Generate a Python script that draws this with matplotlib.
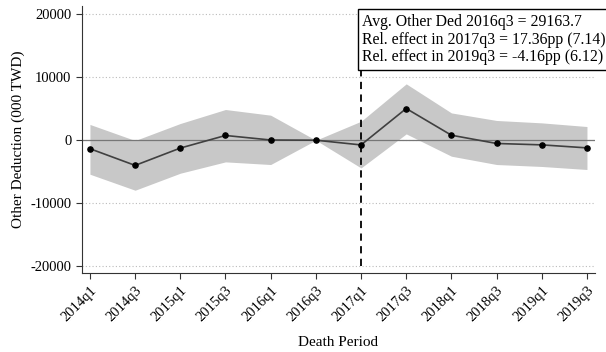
import matplotlib
matplotlib.use("Agg")
import matplotlib.pyplot as plt
import numpy as np

plt.rcParams.update({
    "font.family": "serif",
    "font.serif": ["Liberation Serif", "DejaVu Serif"],
    "font.size": 10,
    "axes.unicode_minus": False,
})

# --- data ---
periods = ["2014q1", "2014q3", "2015q1", "2015q3", "2016q1", "2016q3",
           "2017q1", "2017q3", "2018q1", "2018q3", "2019q1", "2019q3"]
coef = [-1350, -4000, -1250, 750, 30, 0, -750, 5030, 790, -520, -740, -1220]
ci_upper = [2500, -50, 2650, 4870, 3970, 0, 3000, 8940, 4330, 3130, 2750, 2170]
ci_lower = [-5400, -7940, -5240, -3440, -3860, 0, -4400, 1000, -2540, -3860, -4170, -4650]
yticks = [-20000, -10000, 0, 10000, 20000]
event_period = "2017q1"
note_lines = [
    "Avg. Other Ded 2016q3 = 29163.7",
    "Rel. effect in 2017q3 = 17.36pp (7.14)",
    "Rel. effect in 2019q3 = -4.16pp (6.12)",
]

x = np.arange(len(periods))
fig = plt.figure(figsize=(6.06, 3.52), dpi=100)
ax = fig.add_axes([0.135, 0.224, 0.847, 0.759])

# confidence band + point estimates
ax.fill_between(x, ci_lower, ci_upper, color="#c8c8c8", linewidth=0, zorder=1)
ax.axhline(0, color="#777777", linewidth=0.9, zorder=2)
ax.plot(x, coef, color="#404040", linewidth=1.2, zorder=3)
ax.scatter(x, coef, color="black", s=14, zorder=4)

# event line
ev = periods.index(event_period)
ax.plot([ev, ev], [yticks[0], yticks[-1]], color="black", linestyle=(0, (4, 3)),
        linewidth=1.3, zorder=5)

ax.set_xlim(-0.18, len(periods) - 1 + 0.18)
ax.set_ylim(-21100, 21300)
ax.set_yticks(yticks)
ax.set_yticklabels([str(t) for t in yticks], fontsize=10.5)
ax.set_xticks(x)
ax.set_xticklabels(periods, rotation=45, ha="right", rotation_mode="anchor", fontsize=10.5)
ax.yaxis.grid(True, color="#bbbbbb", linestyle=(0, (1, 2)), linewidth=0.8)
ax.set_axisbelow(True)

for s in ["top", "right"]:
    ax.spines[s].set_visible(False)
ax.spines["left"].set_color("#333333")
ax.spines["bottom"].set_color("#333333")
ax.tick_params(direction="out", length=4, color="#333333")

ax.set_ylabel("Other Deduction (000 TWD)", fontsize=11)
ax.set_xlabel("Death Period", fontsize=11, labelpad=9)

ax.text(ev + 0.03, yticks[-1], "\n".join(note_lines), fontsize=11.3, linespacing=1.12,
        va="top", ha="left", zorder=6,
        bbox=dict(boxstyle="square,pad=0.3", facecolor="white", edgecolor="black",
                  linewidth=1.0))

fig.savefig("out.png", dpi=100)
